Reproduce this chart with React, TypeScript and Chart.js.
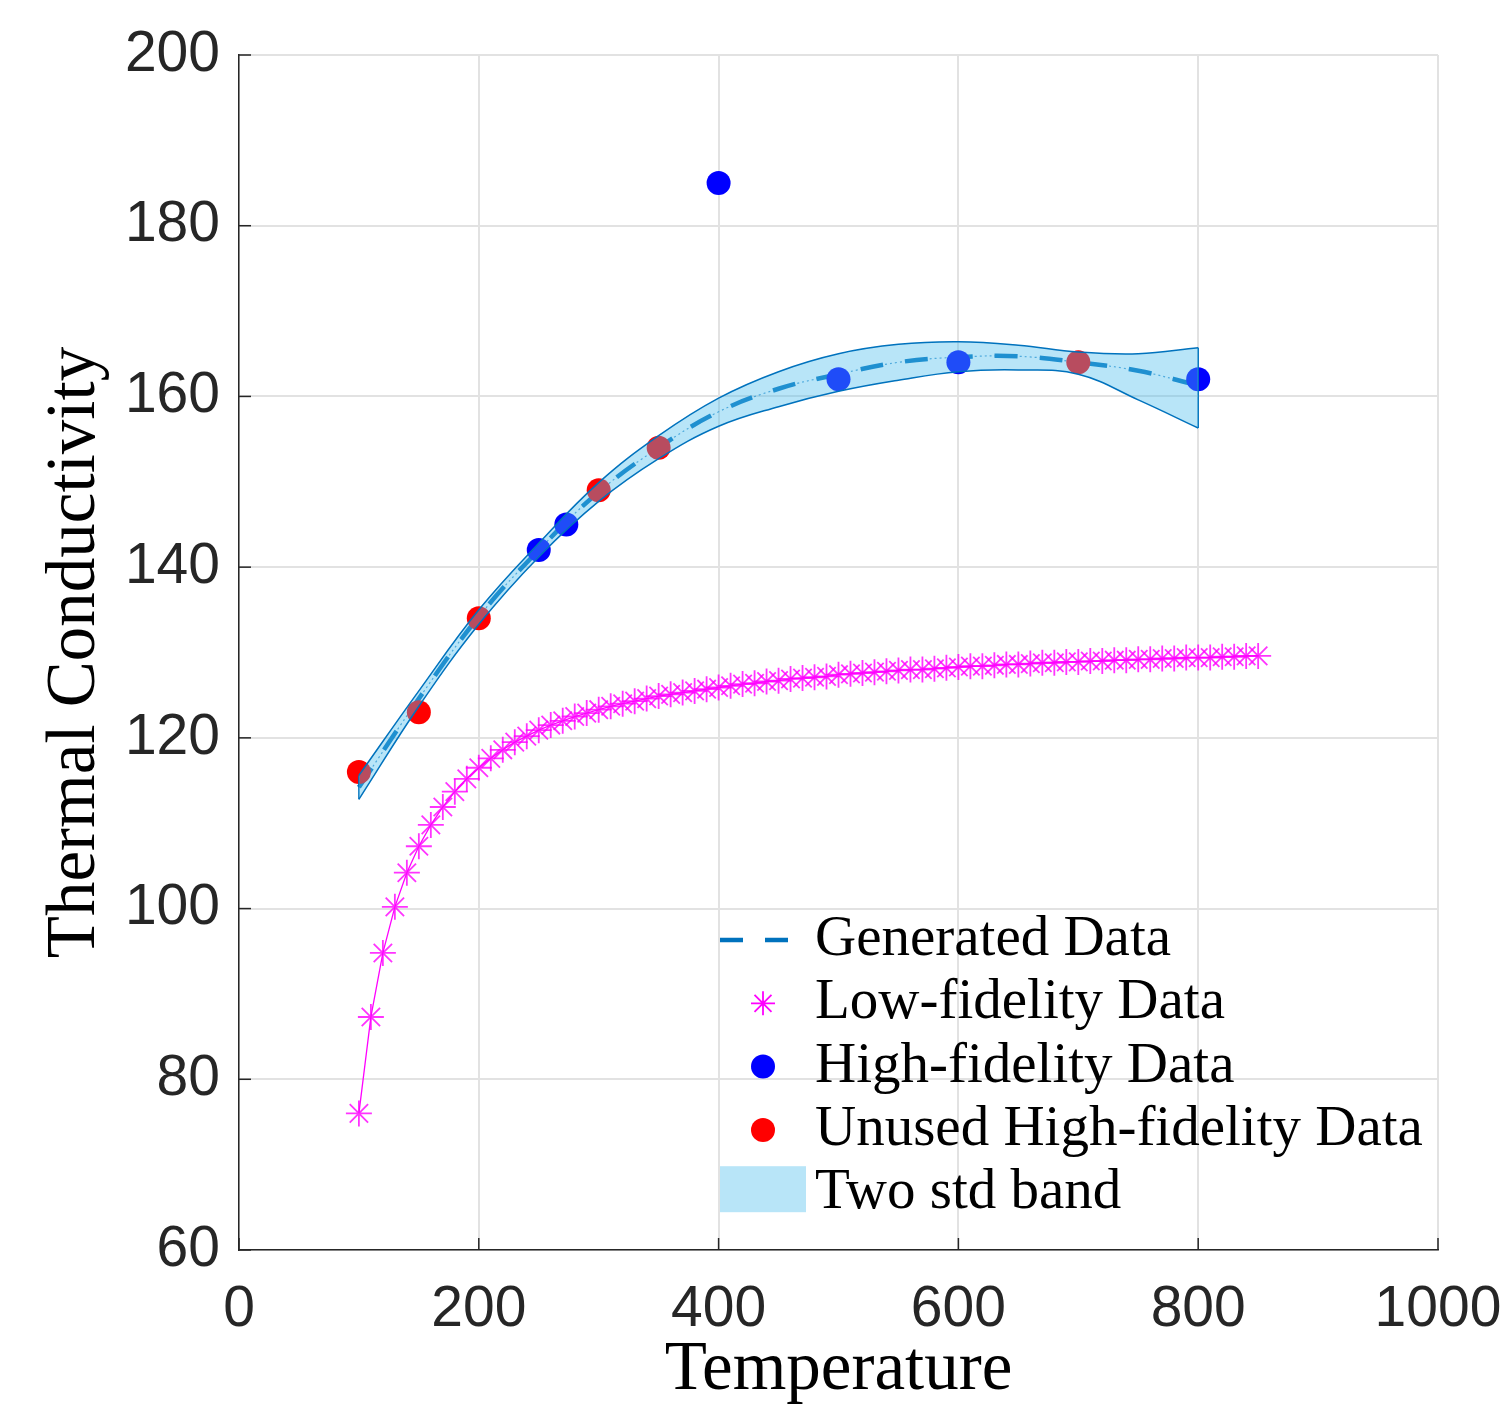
import React, { useEffect, useRef } from 'react';
import { Chart, registerables } from 'chart.js';

Chart.register(...registerables);

// ---------- data ----------
const xTicks = [0, 200, 400, 600, 800, 1000];
const yTicks = [60, 80, 100, 120, 140, 160, 180, 200];

const genT = [100, 150, 200, 250, 300, 350, 400, 450, 500, 550, 600, 650, 700, 750, 800];
const genMean = [114.2, 124.6, 134.2, 142.0, 148.8, 154.0, 158.2, 160.9, 162.6, 164.0, 164.6, 164.7, 164.0, 163.0, 161.3];
const bandUpper = [115.6, 125.5, 135.0, 142.8, 149.9, 155.4, 159.8, 162.9, 165.0, 166.1, 166.4, 166.0, 165.2, 165.0, 165.7];
const bandLower = [112.8, 123.7, 133.3, 141.2, 147.7, 152.7, 156.5, 158.8, 160.6, 161.9, 162.9, 163.1, 162.6, 159.6, 156.3];

const lowT = [
  100, 110, 120, 130, 140, 150, 160, 170, 180, 190,
  200, 210, 220, 230, 240, 250, 260, 270, 280, 290,
  300, 310, 320, 330, 340, 350, 360, 370, 380, 390,
  400, 410, 420, 430, 440, 450, 460, 470, 480, 490,
  500, 510, 520, 530, 540, 550, 560, 570, 580, 590,
  600, 610, 620, 630, 640, 650, 660, 670, 680, 690,
  700, 710, 720, 730, 740, 750, 760, 770, 780, 790,
  800, 810, 820, 830, 840, 850,
];
const lowK = [
  76.0, 87.3, 94.8, 100.2, 104.2, 107.3, 109.8, 111.9, 113.7, 115.2,
  116.5, 117.6, 118.6, 119.5, 120.2, 120.9, 121.5, 122.0, 122.5, 122.9,
  123.3, 123.7, 124.0, 124.3, 124.6, 124.9, 125.1, 125.3, 125.5, 125.7,
  125.9, 126.1, 126.3, 126.4, 126.6, 126.7, 126.9, 127.0, 127.1, 127.2,
  127.4, 127.5, 127.6, 127.7, 127.8, 127.9, 128.0, 128.0, 128.1, 128.2,
  128.3, 128.4, 128.4, 128.5, 128.6, 128.6, 128.7, 128.8, 128.8, 128.9,
  128.9, 129.0, 129.0, 129.1, 129.1, 129.2, 129.2, 129.3, 129.3, 129.4,
  129.4, 129.4, 129.5, 129.5, 129.6, 129.6,
];

const highT = [250, 273, 400, 500, 600, 800];
const highK = [142, 145, 185, 162, 164, 162];

const unusedT = [100, 150, 200, 300, 350, 700];
const unusedK = [116, 123, 134, 149, 154, 164];

const legendLabels = [
  'Generated Data',
  'Low-fidelity Data',
  'High-fidelity Data',
  'Unused High-fidelity Data',
  'Two std band',
];

// ---------- styles ----------
const BLUE_LINE = '#0072BD';
const BAND_FILL = 'rgba(77,190,238,0.4)';
const BAND_SWATCH = '#B8E5F8';
const MAGENTA = '#FF00FF';
const HIGH_BLUE = '#0000FF';
const UNUSED_RED = '#FF0000';
const AXIS_COLOR = '#262626';

const pts = (xs: number[], ys: number[]) => xs.map((x, i) => ({ x, y: ys[i] }));

const inwardTicks = {
  id: 'inwardTicks',
  afterDraw(chart: any) {
    const { ctx, chartArea, scales } = chart;
    ctx.save();
    ctx.strokeStyle = AXIS_COLOR;
    ctx.lineWidth = 1.5;
    ctx.setLineDash([]);
    const len = 12;
    xTicks.forEach((v) => {
      const px = scales.x.getPixelForValue(v);
      ctx.beginPath();
      ctx.moveTo(px, chartArea.bottom);
      ctx.lineTo(px, chartArea.bottom - len);
      ctx.stroke();
    });
    yTicks.forEach((v) => {
      const py = scales.y.getPixelForValue(v);
      ctx.beginPath();
      ctx.moveTo(chartArea.left, py);
      ctx.lineTo(chartArea.left + len, py);
      ctx.stroke();
    });
    ctx.restore();
  },
};

const customLegend = {
  id: 'customLegend',
  afterDraw(chart: any) {
    const { ctx, chartArea } = chart;
    const x0 = chartArea.left + 481;
    const rowBase = chartArea.top + 900;
    const rowGap = 63.3;
    const textX = chartArea.left + 576;
    ctx.save();

    const y1 = rowBase - 15;
    ctx.strokeStyle = BLUE_LINE;
    ctx.lineWidth = 4.5;
    ctx.setLineDash([23, 22]);
    ctx.beginPath();
    ctx.moveTo(x0, y1);
    ctx.lineTo(x0 + 70, y1);
    ctx.stroke();
    ctx.setLineDash([]);

    const cx = x0 + 43;
    const y2 = rowBase + rowGap - 15;
    const r = 12;
    const d = r * Math.SQRT1_2;
    ctx.strokeStyle = MAGENTA;
    ctx.lineWidth = 1.8;
    ctx.beginPath();
    ctx.moveTo(cx, y2 - r); ctx.lineTo(cx, y2 + r);
    ctx.moveTo(cx - r, y2); ctx.lineTo(cx + r, y2);
    ctx.moveTo(cx - d, y2 - d); ctx.lineTo(cx + d, y2 + d);
    ctx.moveTo(cx - d, y2 + d); ctx.lineTo(cx + d, y2 - d);
    ctx.stroke();

    const y3 = rowBase + 2 * rowGap - 15;
    ctx.fillStyle = HIGH_BLUE;
    ctx.beginPath();
    ctx.arc(cx, y3, 12, 0, Math.PI * 2);
    ctx.fill();

    const y4 = rowBase + 3 * rowGap - 15;
    ctx.fillStyle = UNUSED_RED;
    ctx.beginPath();
    ctx.arc(cx, y4, 12, 0, Math.PI * 2);
    ctx.fill();

    const y5 = rowBase + 4 * rowGap - 19;
    ctx.fillStyle = BAND_SWATCH;
    ctx.fillRect(x0, y5 - 23, 86, 46);

    ctx.fillStyle = '#000000';
    ctx.font = '57px "Liberation Serif"';
    ctx.textAlign = 'left';
    ctx.textBaseline = 'alphabetic';
    legendLabels.forEach((t, i) => {
      ctx.fillText(t, textX, rowBase + i * rowGap);
    });
    ctx.restore();
  },
};

export default function App() {
  const canvasRef = useRef<HTMLCanvasElement | null>(null);

  useEffect(() => {
    document.body.style.margin = '0';
    const canvas = canvasRef.current;
    if (!canvas) return;

    const last = genT.length - 1;
    const bandEndsRight = [
      { x: genT[last], y: bandLower[last] },
      { x: genT[last], y: bandUpper[last] },
    ];
    const bandEndsLeft = [
      { x: genT[0], y: bandLower[0] },
      { x: genT[0], y: bandUpper[0] },
    ];

    const chart = new Chart(canvas, {
      type: 'scatter',
      data: {
        datasets: [
          {
            label: 'Low-fidelity Data',
            data: pts(lowT, lowK),
            showLine: true,
            borderColor: MAGENTA,
            backgroundColor: MAGENTA,
            borderWidth: 1.3,
            pointStyle: 'star',
            pointRadius: 13,
            pointBorderWidth: 1.8,
            pointBorderColor: 'rgba(255,0,255,0.8)',
            order: 5,
          } as any,
          {
            label: 'Generated Data',
            data: pts(genT, genMean),
            showLine: true,
            borderColor: BLUE_LINE,
            borderWidth: 4.5,
            borderDash: [23, 22],
            pointRadius: 0,
            tension: 0.4,
            order: 4,
          } as any,
          {
            label: 'Generated Data (dotted)',
            data: pts(genT, genMean),
            showLine: true,
            borderColor: 'rgba(0,114,189,0.7)',
            borderWidth: 1.2,
            borderDash: [2, 3],
            pointRadius: 0,
            tension: 0.4,
            order: 3,
          } as any,
          {
            label: 'Unused High-fidelity Data',
            data: pts(unusedT, unusedK),
            showLine: false,
            backgroundColor: UNUSED_RED,
            borderColor: UNUSED_RED,
            pointRadius: 12,
            pointBorderWidth: 0,
            order: 2,
          } as any,
          {
            label: 'High-fidelity Data',
            data: pts(highT, highK),
            showLine: false,
            backgroundColor: HIGH_BLUE,
            borderColor: HIGH_BLUE,
            pointRadius: 12,
            pointBorderWidth: 0,
            order: 2,
          } as any,
          {
            label: 'band lower',
            data: pts(genT, bandLower),
            showLine: true,
            borderColor: BLUE_LINE,
            borderWidth: 1.5,
            pointRadius: 0,
            tension: 0.4,
            fill: false,
            order: 0,
          } as any,
          {
            label: 'Two std band',
            data: pts(genT, bandUpper),
            showLine: true,
            borderColor: BLUE_LINE,
            borderWidth: 1.5,
            backgroundColor: BAND_FILL,
            pointRadius: 0,
            tension: 0.4,
            fill: '-1',
            order: 0,
          } as any,
          {
            label: 'band end right',
            data: bandEndsRight,
            showLine: true,
            borderColor: BLUE_LINE,
            borderWidth: 1.5,
            pointRadius: 0,
            order: 0,
          } as any,
          {
            label: 'band end left',
            data: bandEndsLeft,
            showLine: true,
            borderColor: BLUE_LINE,
            borderWidth: 1.5,
            pointRadius: 0,
            order: 0,
          } as any,
        ],
      },
      options: {
        responsive: false,
        animation: false,
        devicePixelRatio: 1,
        layout: { padding: { left: 0, top: 55, right: 66, bottom: 0 } },
        plugins: {
          legend: { display: false },
          tooltip: { enabled: false },
          filler: { propagate: false },
        },
        scales: {
          x: {
            type: 'linear',
            min: 0,
            max: 1000,
            afterBuildTicks: (scale: any) => {
              scale.ticks = xTicks.map((v) => ({ value: v }));
            },
            afterFit: (scale: any) => {
              scale.height = 155;
              scale.paddingLeft = 0;
              scale.paddingRight = 0;
            },
            grid: {
              color: '#e2e2e2',
              lineWidth: 2,
              drawTicks: false,
            },
            border: { display: true, color: AXIS_COLOR, width: 1.5 },
            ticks: {
              padding: 26,
              color: AXIS_COLOR,
              font: { family: '"Liberation Sans", Arial, sans-serif', size: 57 },
              maxRotation: 0,
              autoSkip: false,
              callback: (v: any) => String(v),
            },
            title: {
              display: true,
              text: 'Temperature',
              color: '#000000',
              font: { family: '"Liberation Serif", serif', size: 69, lineHeight: 1 },
              padding: { top: 0, bottom: 0 },
            },
          },
          y: {
            type: 'linear',
            min: 60,
            max: 200,
            afterBuildTicks: (scale: any) => {
              scale.ticks = yTicks.map((v) => ({ value: v }));
            },
            afterFit: (scale: any) => {
              scale.width = 239;
              scale.paddingTop = 0;
              scale.paddingBottom = 0;
            },
            grid: {
              color: '#e2e2e2',
              lineWidth: 2,
              drawTicks: false,
            },
            border: { display: true, color: AXIS_COLOR, width: 1.5 },
            ticks: {
              padding: 19,
              color: AXIS_COLOR,
              font: { family: '"Liberation Sans", Arial, sans-serif', size: 57 },
              autoSkip: false,
              callback: (v: any) => String(v),
            },
            title: {
              display: true,
              text: 'Thermal Conductivity',
              color: '#000000',
              font: { family: '"Liberation Serif", serif', size: 69, lineHeight: 1 },
              padding: { top: 41, bottom: 0 },
            },
          },
        },
      } as any,
      plugins: [inwardTicks, customLegend],
    });

    return () => {
      chart.destroy();
    };
  }, []);

  return (
    <div style={{ width: 1504, height: 1405 }}>
      <canvas ref={canvasRef} width={1504} height={1405} style={{ display: 'block' }} />
    </div>
  );
}
